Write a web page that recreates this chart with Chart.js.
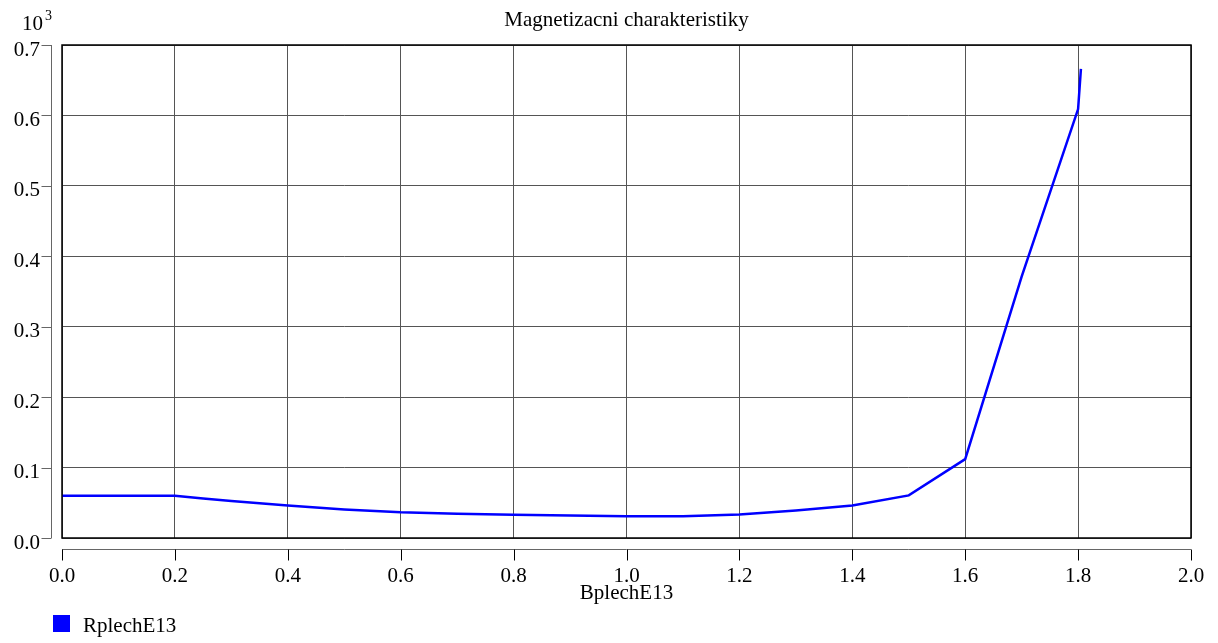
<!DOCTYPE html>
<html>
<head>
<meta charset="utf-8">
<script src="https://cdn.jsdelivr.net/npm/chart.js@4.4.0/dist/chart.umd.min.js"></script>
<style>
  html, body { margin: 0; padding: 0; background: #fff; }
</style>
</head>
<body>
<canvas id="chart" width="1218" height="643"></canvas>
<script>
// DATA
const chartTitle = "Magnetizacni charakteristiky";
const xAxisTitle = "BplechE13";
const seriesName = "RplechE13";
const yScaleLabel = "10";
const yScaleExp = "3";

const bValues = [0.0, 0.2, 0.25, 0.3, 0.4, 0.5, 0.6, 0.7, 0.8, 0.9, 1.0, 1.1, 1.2, 1.3, 1.4, 1.5, 1.6, 1.7, 1.8, 1.805];
const rValues = [60, 60, 56, 52.5, 46, 40.5, 36.5, 34.5, 33, 32, 31, 31, 33.5, 39, 46, 60.5, 112, 371, 609, 666];

const xTickStep = 0.2;
const yTickStep = 100;
const xRange = [0, 2];
const yRange = [0, 700];

const FONT = "Liberation Serif";
Chart.defaults.font.family = FONT;
Chart.defaults.font.size = 21;
Chart.defaults.color = "#000";

// offset axes, border, titles, legend
const decorations = {
    id: "decorations",
    afterDraw(chart) {
        const ctx = chart.ctx;
        const area = chart.chartArea;
        const xs = chart.scales.x;
        const ys = chart.scales.y;
        ctx.save();

        // plot border
        ctx.strokeStyle = "#000";
        ctx.lineWidth = 1.5;
        ctx.strokeRect(area.left, area.top, area.right - area.left, area.bottom - area.top);

        // y axis (offset to the left)
        const yAxisX = area.left - 10.5;
        ctx.strokeStyle = "#666";
        ctx.lineWidth = 1;
        ctx.beginPath();
        ctx.moveTo(yAxisX, area.top);
        ctx.lineTo(yAxisX, area.bottom);
        ys.ticks.forEach(t => {
            const py = Math.round(ys.getPixelForValue(t.value)) + 0.5;
            ctx.moveTo(yAxisX - 10, py);
            ctx.lineTo(yAxisX, py);
        });
        ctx.stroke();

        // x axis (offset below)
        const xAxisY = area.bottom + 11.5;
        ctx.beginPath();
        ctx.moveTo(area.left, xAxisY);
        ctx.lineTo(area.right, xAxisY);
        ctx.stroke();
        ctx.strokeStyle = "#000";
        ctx.beginPath();
        xs.ticks.forEach(t => {
            const px = Math.round(xs.getPixelForValue(t.value)) + 0.5;
            ctx.moveTo(px, xAxisY);
            ctx.lineTo(px, xAxisY + 11);
        });
        ctx.stroke();

        ctx.fillStyle = "#000";
        // title
        ctx.font = "21px '" + FONT + "'";
        ctx.textAlign = "center";
        ctx.textBaseline = "alphabetic";
        ctx.fillText(chartTitle, (area.left + area.right) / 2, 26);

        // x axis title
        ctx.fillText(xAxisTitle, (area.left + area.right) / 2, 599);

        // 10^3 scale marker
        ctx.textAlign = "left";
        ctx.fillText(yScaleLabel, 22, 30);
        ctx.font = "14px '" + FONT + "'";
        ctx.fillText(yScaleExp, 45, 20);

        // legend
        const ds = chart.data.datasets[0];
        ctx.fillStyle = ds.borderColor;
        ctx.fillRect(53, 615, 17, 17);
        ctx.fillStyle = "#000";
        ctx.font = "21px '" + FONT + "'";
        ctx.fillText(ds.label, 83, 632);

        ctx.restore();
    }
};

new Chart(document.getElementById("chart"), {
    type: "line",
    data: {
        datasets: [{
            label: seriesName,
            data: bValues.map((b, i) => ({ x: b, y: rValues[i] })),
            borderColor: "#0000ff",
            borderWidth: 2.5,
            pointRadius: 0,
            tension: 0,
            fill: false,
        }],
    },
    options: {
        responsive: false,
        animation: false,
        layout: { padding: { top: 45, right: 27, left: 0, bottom: 0 } },
        plugins: {
            legend: { display: false },
            title: { display: false },
            tooltip: { enabled: false },
        },
        scales: {
            x: {
                type: "linear",
                min: xRange[0],
                max: xRange[1],
                border: { display: false },
                grid: { color: "#555", lineWidth: 1, drawTicks: false },
                ticks: {
                    stepSize: xTickStep,
                    padding: 26,
                    maxRotation: 0,
                    callback: v => v.toFixed(1),
                },
                afterFit: s => {
                    s.height = 105;
                    s.paddingLeft = 0;
                    s.paddingRight = 0;
                },
            },
            y: {
                type: "linear",
                min: yRange[0],
                max: yRange[1],
                border: { display: false },
                grid: { color: "#555", lineWidth: 1, drawTicks: false },
                ticks: {
                    stepSize: yTickStep,
                    padding: 22,
                    labelOffset: 5,
                    callback: v => (v / 1000).toFixed(1),
                },
                afterFit: s => {
                    s.width = 62;
                    s.paddingTop = 0;
                    s.paddingBottom = 0;
                },
            },
        },
    },
    plugins: [decorations],
});
</script>
</body>
</html>
